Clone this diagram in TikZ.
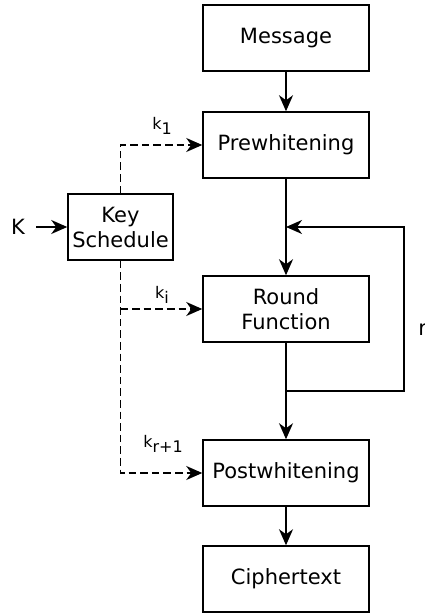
\documentclass[tikz,border=0pt]{standalone}
\usepackage{fontspec}
\setmainfont{DejaVu Sans}
\usetikzlibrary{arrows.meta}
\begin{document}
\begin{tikzpicture}[x=0.5pt,y=-0.5pt,
  box/.style={draw, line width=0.75pt, minimum width=83pt, minimum height=33pt, inner sep=0pt, font=\fontsize{10.5}{12.5}\selectfont, align=center},
  ksbox/.style={box, minimum width=52.5pt},
  conn/.style={line width=0.75pt, -{Stealth[length=8pt,width=7pt,inset=2.5pt]}},
  dconn/.style={conn, dash pattern=on 3.8pt off 2pt},
  lbl/.style={font=\fontsize{10.5}{12.5}\selectfont, inner sep=0pt},
  klbl/.style={font=\fontsize{8}{9.5}\selectfont, inner sep=0pt}]
\useasboundingbox (0,0) rectangle (424,614);
\node[box] (msg) at (286,38) {Message};
\node[box] (pre) at (286,145) {Prewhitening};
\node[ksbox] (ks) at (120.5,227) {Key\\Schedule};
\node[box] (rf) at (286,309) {Round\\Function};
\node[box] (post) at (286,473) {Postwhitening};
\node[box] (ct) at (286,579) {Ciphertext};
\node[lbl] (K) at (18,227) {K};
\node[lbl, anchor=west] (r) at (418,330) {r};
\coordinate (lb) at (286,391);
\coordinate (rb) at (404,391);
\coordinate (rt) at (404,227);
\coordinate (lt) at (286,227);
\draw[conn] (msg) -- (pre);
\draw[conn] (pre) -- (rf);
\draw[conn] (rf) -- (post);
\draw[conn] (post) -- (ct);
\draw[conn] (lb) -- (rb) -- (rt) -- (lt);
\draw[conn, shorten <=5.5pt] (K) -- (ks);
\draw[dconn] (ks.north) |- (pre.west);
\draw[dconn] (ks.south |- rf.west) -- (rf.west);
\draw[dconn] (ks.south) |- (post.west);
\node[klbl] (k1) at (162,126) {k\raisebox{-0.5ex}{1}};
\node[klbl] (ki) at (162,295) {k\raisebox{-0.5ex}{i}};
\node[klbl] (kr) at (163,444) {k\raisebox{-0.5ex}{r+1}};
\end{tikzpicture}
\end{document}
